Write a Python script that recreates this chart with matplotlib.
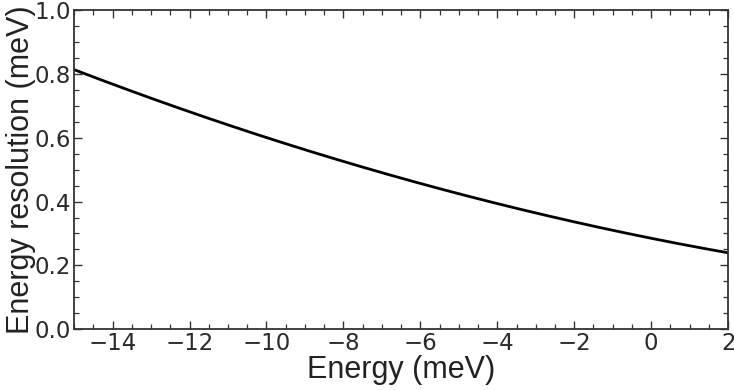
import numpy as np
import matplotlib
matplotlib.use("Agg")
import matplotlib.pyplot as plt
from matplotlib.ticker import MultipleLocator

# values
energy = [-15, -14, -12, -10, -8, -6, -4, -2, 0, 2]
resolution = [0.81, 0.77, 0.685, 0.60, 0.525, 0.455, 0.395, 0.335, 0.285, 0.24]

fig = plt.figure(figsize=(7.34, 3.90), dpi=100)
ax = fig.add_axes([0.101, 0.156, 0.891, 0.818])

# smooth the read points with a quadratic fit for drawing
coef = np.polyfit(energy, resolution, 2)
xs = np.linspace(energy[0], energy[-1], 200)
ax.plot(xs, np.polyval(coef, xs), color="black", lw=2)

ax.set_xlim(-15, 2)
ax.set_ylim(0, 1)
ax.xaxis.set_major_locator(MultipleLocator(2))
ax.xaxis.set_minor_locator(MultipleLocator(0.5))
ax.yaxis.set_major_locator(MultipleLocator(0.2))
ax.yaxis.set_minor_locator(MultipleLocator(0.05))

dark = "#333333"
for s in ax.spines.values():
    s.set_color(dark)
    s.set_linewidth(1.3)
ax.tick_params(which="both", direction="in", top=True, right=True, colors=dark,
               labelcolor="#2a2a2a", labelsize=16.5, pad=2)
ax.tick_params(which="major", length=6, width=1.0)
ax.tick_params(which="minor", length=3.5, width=0.9)

lab = dict(fontsize=22, color="#222222", family="Liberation Sans")
ax.set_xlabel("Energy (meV)", labelpad=0, **lab)
ax.set_ylabel("Energy resolution (meV)", labelpad=-1, **lab)

fig.savefig("out.png", dpi=100)
